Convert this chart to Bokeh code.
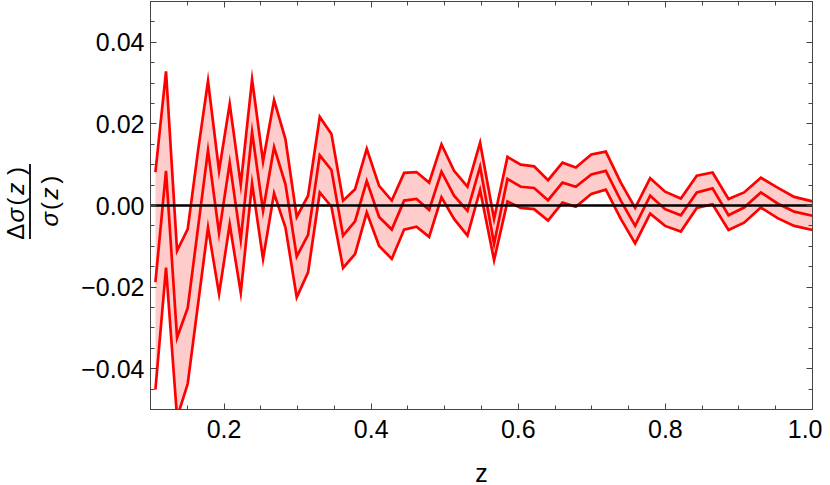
import numpy as np
from bokeh.plotting import figure
from bokeh.layouts import row
from bokeh.models import (ColumnDataSource, FixedTicker, CustomJSTickFormatter,
                          LinearAxis, Span, Range1d)
from bokeh.core.properties import value
from bokeh.embed import file_html
from bokeh.resources import INLINE

z = [0.1067, 0.1211, 0.1361, 0.1506, 0.1646, 0.1782, 0.1932, 0.2077, 0.2227, 0.2381,
     0.2530, 0.2680, 0.2835, 0.2988, 0.3142, 0.3301, 0.3460, 0.3618, 0.3781, 0.3940,
     0.4108, 0.4280, 0.4448, 0.4616, 0.4788, 0.4956, 0.5127, 0.5309, 0.5481, 0.5671,
     0.5853, 0.6034, 0.6215, 0.6405, 0.6601, 0.6782, 0.6993, 0.7190, 0.7394, 0.7589,
     0.7793, 0.7996, 0.8210, 0.8427, 0.8641, 0.8858, 0.9070, 0.9298, 0.9525, 0.9751,
     1.0]

upper = [0.0082, 0.0329, -0.0111, -0.0058, 0.0134, 0.0305, 0.0085, 0.0249, 0.0051, 0.0309,
         0.0108, 0.0258, 0.0162, -0.0028, 0.0024, 0.0217, 0.0175, 0.0012, 0.0040, 0.0139,
         0.0048, 0.0012, 0.0080, 0.0082, 0.0056, 0.0150, 0.0085, 0.0046, 0.0154, -0.0033,
         0.0119, 0.0100, 0.0096, 0.0062, 0.0105, 0.0093, 0.0125, 0.0132, 0.0056, -0.0006,
         0.0067, 0.0034, 0.0017, 0.0073, 0.0081, 0.0016, 0.0032, 0.0068, 0.0044, 0.0021,
         0.0010]

middle = [-0.0188, 0.0085, -0.0324, -0.0251, -0.0055, 0.0135, -0.0068, 0.0105, -0.0084, 0.0180,
          -0.0013, 0.0143, 0.0052, -0.0125, -0.0072, 0.0123, 0.0087, -0.0074, -0.0039, 0.0060,
          -0.0028, -0.0059, 0.0012, 0.0016, -0.0011, 0.0083, 0.0024, -0.0013, 0.0095, -0.0094,
          0.0065, 0.0046, 0.0043, 0.0013, 0.0056, 0.0046, 0.0076, 0.0085, 0.0012, -0.0050,
          0.0024, -0.0009, -0.0024, 0.0032, 0.0042, -0.0024, -0.0005, 0.0032, 0.0005, -0.0015,
          -0.0025]

lower = [-0.0451, -0.0152, -0.0520, -0.0437, -0.0242, -0.0054, -0.0217, -0.0046, -0.0214, 0.0054,
         -0.0131, 0.0030, -0.0054, -0.0225, -0.0164, 0.0032, -0.0003, -0.0153, -0.0119, -0.0017,
         -0.0099, -0.0131, -0.0059, -0.0052, -0.0077, 0.0020, -0.0033, -0.0074, 0.0038, -0.0134,
         0.0010, -0.0006, -0.0009, -0.0037, 0.0007, -0.0003, 0.0028, 0.0039, -0.0033, -0.0093,
         -0.0020, -0.0050, -0.0064, -0.0006, 0.0003, -0.0060, -0.0042, -0.0005, -0.0031, -0.0050,
         -0.0060]

x_major = [0.2, 0.4, 0.6, 0.8, 1.0]
x_minor = [0.1, 0.15, 0.25, 0.3, 0.35, 0.45, 0.5, 0.55, 0.65, 0.7, 0.75, 0.85, 0.9, 0.95]
y_major = [-0.04, -0.02, 0.0, 0.02, 0.04]
y_minor = [-0.045, -0.035, -0.03, -0.025, -0.015, -0.01, -0.005, 0.005, 0.01, 0.015,
           0.025, 0.03, 0.035, 0.045]

# pieces of the rotated y title  Δσ(z) / σ(z)
num_text = ["\u0394", "\u03c3", "(", "z", ")"]
num_italic = [False, True, False, True, False]
den_text = ["\u03c3", "(", "z", ")"]
den_italic = [True, False, True, False]

FONT = "Liberation Sans"
AX = "#444444"
H = 484
LW = 75
FT, FB = 1, 409   # frame top / bottom in page pixels

src = ColumnDataSource(dict(z=z, upper=upper, middle=middle, lower=lower))

p = figure(frame_width=662, frame_height=FB - FT, output_backend="svg", toolbar_location=None,
           x_range=Range1d(0.1, 1.0), y_range=Range1d(-0.05, 0.05),
           min_border_left=LW, min_border_right=10, min_border_top=FT,
           min_border_bottom=H - FB, x_axis_location=None, y_axis_location=None)
p.grid.visible = False
p.outline_line_color = AX
p.border_fill_color = "white"

def style(ax, ticks, minor, labels):
    ax.ticker = FixedTicker(ticks=ticks, minor_ticks=minor)
    ax.axis_line_color = AX
    ax.major_tick_line_color = AX
    ax.minor_tick_line_color = AX
    ax.major_tick_in = 6
    ax.major_tick_out = 0
    ax.minor_tick_in = 4
    ax.minor_tick_out = 0
    ax.major_label_text_font = FONT
    ax.major_label_text_font_size = "25px"
    ax.major_label_text_color = "black"
    if not labels:
        ax.formatter = CustomJSTickFormatter(code="return '';")
        ax.major_label_standoff = 0

xb = LinearAxis(axis_label="z")
style(xb, x_major, x_minor, True)
xb.formatter = CustomJSTickFormatter(code="return tick.toFixed(1);")
xb.major_label_standoff = 10
xb.axis_label_text_font = FONT
xb.axis_label_text_font_size = "25px"
xb.axis_label_text_font_style = "normal"
xb.axis_label_text_color = "black"
xb.axis_label_text_line_height = 1.0
xb.axis_label_standoff = 18
p.add_layout(xb, "below")

xt = LinearAxis()
style(xt, x_major, x_minor, False)
p.add_layout(xt, "above")

yl = LinearAxis()
style(yl, y_major, y_minor, True)
yl.formatter = CustomJSTickFormatter(
    code="return (tick < -1e-12 ? '\u2212' : '') + Math.abs(tick).toFixed(2);")
yl.major_label_standoff = 6
p.add_layout(yl, "left")

yr = LinearAxis()
style(yr, y_major, y_minor, False)
p.add_layout(yr, "right")

p.varea(x="z", y1="lower", y2="upper", source=src, fill_color="#ffcccc", fill_alpha=1.0)
zero = Span(location=0, dimension="width", line_color="black", line_width=2.5, level="glyph")
p.add_layout(zero)
for col in ("upper", "middle", "lower"):
    p.line(x="z", y=col, source=src, line_color="#ff0000", line_width=2.7, line_join="miter")

# y-axis title (fraction) in a narrow side panel; its data units are page pixels
pl = figure(width=LW, height=H, output_backend="svg", toolbar_location=None,
            x_range=Range1d(0, LW), y_range=Range1d(FB, FT),
            min_border_left=0, min_border_right=0, min_border_top=FT,
            min_border_bottom=H - FB, x_axis_location=None, y_axis_location=None)
pl.grid.visible = False
pl.outline_line_color = None
pl.border_fill_color = "white"
pl.background_fill_color = "white"

ang = np.pi / 2
num_y = [234, 217.5, 203.5, 190.5, 172.5]
den_y = [221.5, 208, 195.5, 181.5]
for t, it, yy in zip(num_text, num_italic, num_y):
    pl.text(x=[14.5], y=[yy], text=[t], angle=ang, text_font=value(FONT),
            text_font_style="italic" if it else "normal", text_font_size="24px",
            text_align="center", text_baseline="middle", text_color="black")
for t, it, yy in zip(den_text, den_italic, den_y):
    pl.text(x=[48.5], y=[yy], text=[t], angle=ang, text_font=value(FONT),
            text_font_style="italic" if it else "normal", text_font_size="24px",
            text_align="center", text_baseline="middle", text_color="black")
pl.segment(x0=[29.5], y0=[165.5], x1=[29.5], y1=[241.5], line_color="black", line_width=1.8)

layout = row(pl, p, spacing=0)
open("out.html", "w").write(file_html(layout, INLINE))
